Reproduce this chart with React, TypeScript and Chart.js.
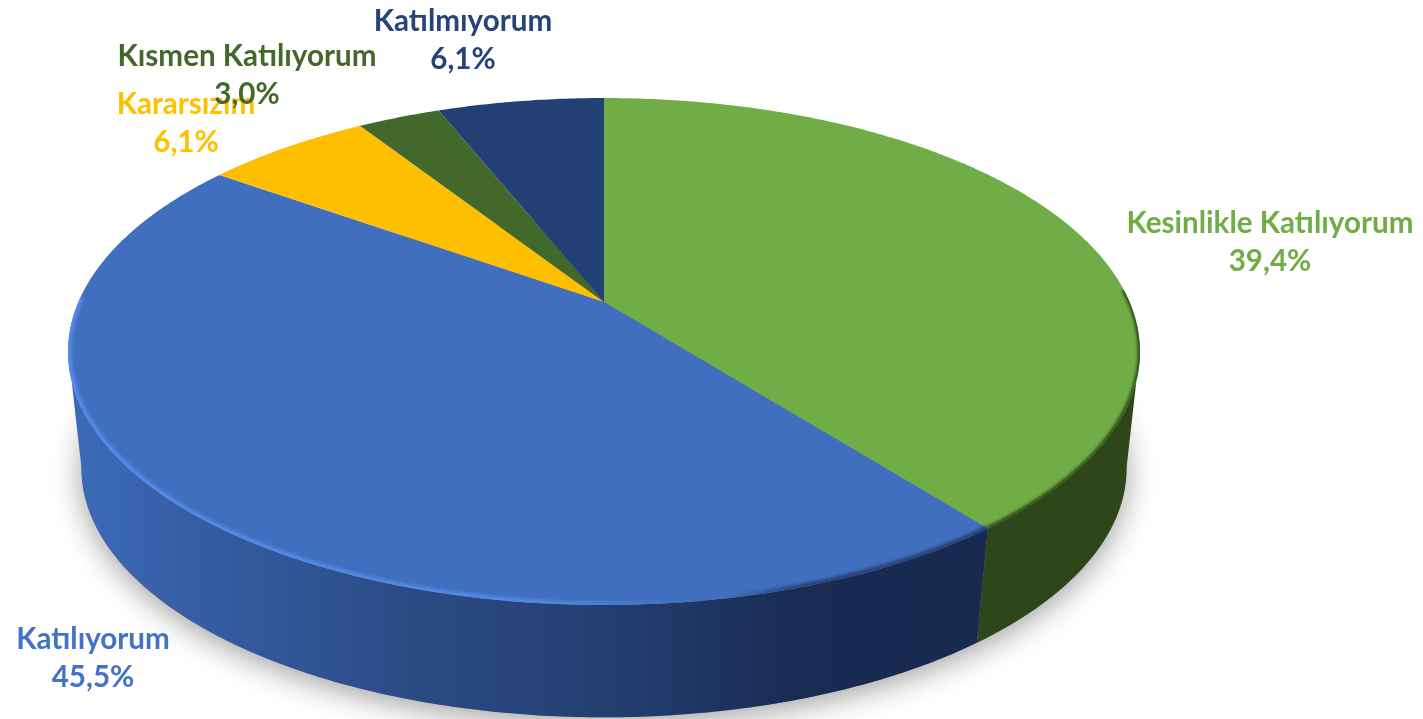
import React, { useEffect, useRef } from "react";
import { Chart, registerables } from "chart.js";

Chart.register(...registerables);

const categories = ["Kesinlikle Katılıyorum", "Katılıyorum", "Kararsızım", "Kısmen Katılıyorum", "Katılmıyorum"];
const counts = [13, 15, 2, 1, 2];
const topColors = ["#70AD47", "#416FC0", "#FDBF00", "#43682B", "#234074"];
const labelColors = ["#70AD47", "#4472C4", "#FFC000", "#43682B", "#264478"];
const labelCenters = [[1270, 223], [93, 639], [186, 104], [247, 56], [463, 21]];

const W = 1423, H = 719, LINE = 38.5;
const TOP = { cx: 604, cy: 302, rx: 525.6, ry: 243.8, k: -0.1953 };
const BOT = { cx: 604, cy: 421, rx: 513, ry: 240, k: -0.19 };
const TANGENT = 0.19;
type P = typeof TOP;
const pt = (p: P, a: number) => {
  const u = Math.cos(a), v = Math.sin(a), d = 1 + p.k * v;
  return [p.cx + (p.rx * u) / d, p.cy + (p.ry * v) / d];
};
const trace = (ctx: CanvasRenderingContext2D, p: P, a0: number, a1: number, move = true) => {
  const n = Math.max(2, Math.ceil(Math.abs(a1 - a0) / 0.01));
  for (let i = 0; i <= n; i++) {
    const [x, y] = pt(p, a0 + ((a1 - a0) * i) / n);
    if (i === 0 && move) ctx.moveTo(x, y);
    else ctx.lineTo(x, y);
  }
};
const fillWall = (ctx: CanvasRenderingContext2D, start: number, end: number) => {
  const a0 = Math.max(start, TANGENT), a1 = Math.min(end, Math.PI - TANGENT);
  if (a1 <= a0) return;
  ctx.beginPath();
  trace(ctx, TOP, a0, a1);
  trace(ctx, BOT, a1, a0, false);
  ctx.closePath();
  ctx.fill();
};

const pie3d = {
  id: "pie3d",
  beforeDatasetDraw(chart: any) {
    const ctx: CanvasRenderingContext2D = chart.ctx;
    const arcs = chart.getDatasetMeta(0).data;
    ctx.save();

    // soft shadow under the body
    ctx.save();
    ctx.shadowColor = "rgba(0,0,0,0.38)";
    ctx.shadowBlur = 30;
    ctx.shadowOffsetY = 6;
    ctx.fillStyle = "#888";
    ctx.beginPath();
    trace(ctx, BOT, 0, Math.PI * 2);
    ctx.closePath();
    ctx.fill();
    ctx.restore();

    // side walls
    const blueGrad = ctx.createLinearGradient(70, 0, 985, 0);
    blueGrad.addColorStop(0, "#3D6AB7");
    blueGrad.addColorStop(0.2, "#33589C");
    blueGrad.addColorStop(0.37, "#2B4B85");
    blueGrad.addColorStop(0.58, "#234072");
    blueGrad.addColorStop(0.8, "#192B52");
    blueGrad.addColorStop(1, "#182A50");
    const walls = ["#2D471B", blueGrad, "#7F6000", "#2A4119", "#16284A"];
    arcs.forEach((el: any, i: number) => {
      ctx.fillStyle = walls[i] as any;
      fillWall(ctx, el.startAngle, el.endAngle);
    });

    // top faces
    arcs.forEach((el: any, i: number) => {
      ctx.beginPath();
      ctx.moveTo(TOP.cx, TOP.cy);
      trace(ctx, TOP, el.startAngle, el.endAngle, false);
      ctx.closePath();
      ctx.fillStyle = topColors[i];
      ctx.fill();
    });

    // bevel along the rim, clipped to the top face
    ctx.save();
    ctx.beginPath();
    trace(ctx, TOP, 0, Math.PI * 2);
    ctx.closePath();
    ctx.clip();
    (ctx as any).filter = "blur(1.5px)";
    const seam = arcs[0].endAngle;
    const hi = ctx.createLinearGradient(60, 0, 800, 0);
    hi.addColorStop(0, "rgba(84,140,232,1)");
    hi.addColorStop(0.65, "rgba(84,140,232,0.9)");
    hi.addColorStop(0.85, "rgba(84,140,232,0)");
    hi.addColorStop(0.9, "rgba(30,50,90,0)");
    hi.addColorStop(1, "rgba(30,50,90,0.7)");
    ctx.strokeStyle = hi;
    ctx.lineWidth = 7;
    ctx.beginPath();
    trace(ctx, TOP, seam, Math.PI + 0.02);
    ctx.stroke();
    ctx.strokeStyle = "rgba(40,66,24,0.95)";
    ctx.lineWidth = 4.5;
    ctx.beginPath();
    trace(ctx, TOP, -0.05, seam);
    ctx.stroke();
    ctx.restore();

    ctx.restore();
    return false;
  },
  afterDatasetsDraw(chart: any) {
    const ctx: CanvasRenderingContext2D = chart.ctx;
    const total = counts.reduce((a, b) => a + b, 0);
    ctx.save();
    ctx.font = "bold 29.6px Lato";
    ctx.textAlign = "center";
    ctx.textBaseline = "middle";
    categories.forEach((name, i) => {
      const [x, y] = labelCenters[i];
      const pct = ((counts[i] / total) * 100).toFixed(1).replace(".", ",") + "%";
      ctx.fillStyle = labelColors[i];
      ctx.fillText(name, x, y);
      ctx.fillText(pct, x, y + LINE);
    });
    ctx.restore();
  },
};

export default function App() {
  const ref = useRef<HTMLCanvasElement>(null);
  useEffect(() => {
    document.body.style.margin = "0";
    document.body.style.background = "#fff";
    const chart = new Chart(ref.current!, {
      type: "pie",
      data: {
        labels: categories,
        datasets: [{ data: counts, backgroundColor: topColors, borderWidth: 0 }],
      },
      options: {
        responsive: false,
        animation: false,
        plugins: { legend: { display: false }, tooltip: { enabled: false } },
      },
      plugins: [pie3d],
    } as any);
    return () => chart.destroy();
  }, []);
  return <canvas ref={ref} width={W} height={H} style={{ display: "block", width: W, height: H }} />;
}
